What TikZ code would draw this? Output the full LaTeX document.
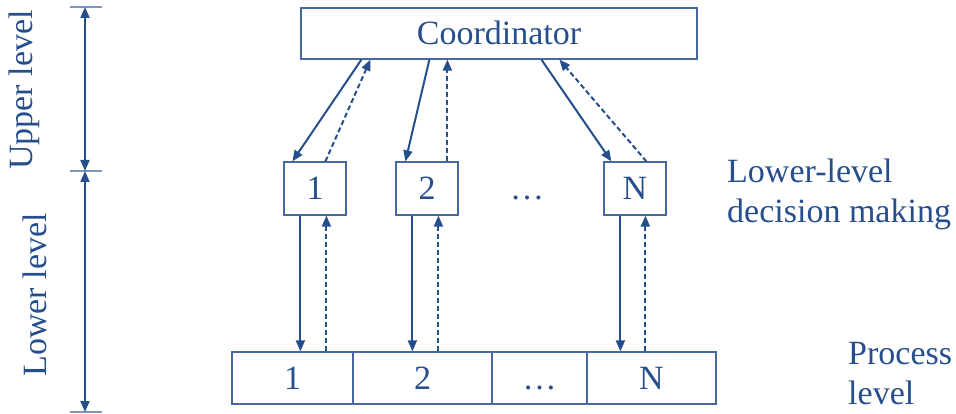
\documentclass[tikz,border=0pt]{standalone}
\usepackage{fontspec}
\setmainfont{Liberation Serif}
\usetikzlibrary{arrows.meta}
\definecolor{inkblue}{RGB}{38,78,140}
\definecolor{lineblue}{RGB}{36,78,140}
\definecolor{boxblue}{RGB}{70,105,160}
\tikzset{
  box/.style={draw=boxblue, line width=1.2pt, inner sep=0pt, text=inkblue,
    text height=22.5pt, text depth=0pt,
    font=\fontsize{34}{40}\selectfont},
  label/.style={text=inkblue, inner sep=0pt, font=\fontsize{34}{40}\selectfont},
  cmd/.style={draw=lineblue, line width=2pt, -{Triangle[length=11pt,width=9pt]}},
  fbk/.style={cmd, dash pattern=on 5pt off 3pt},
  span/.style={draw=lineblue, line width=2pt, {Triangle[length=11pt,width=9pt]}-{Triangle[length=11pt,width=9pt]}},
  tick/.style={draw=boxblue!70, line width=1.2pt}
}
\begin{document}
\begin{tikzpicture}[x=1pt,y=-1pt]
\useasboundingbox (0,0) rectangle (956,414);

% upper level
\node[box, minimum width=396pt, minimum height=51pt] (coord) at (499,33.5) {Coordinator};

% lower-level decision units
\node[box, minimum width=62pt, minimum height=53pt] (b1) at (315,188.5) {1};
\node[box, minimum width=62pt, minimum height=53pt] (b2) at (427,188.5) {2};
\node[box, minimum width=62pt, minimum height=53pt] (bN) at (635,188.5) {N};
\node[label, anchor=base] (dots) at (527,200) {\dots};

% process level
\node[box, minimum width=121pt, minimum height=52pt] (p1) at (292.5,378) {1};
\node[box, minimum width=139pt, minimum height=52pt] (p2) at (422.5,378) {2};
\node[box, minimum width=95pt, minimum height=52pt] (p3) at (539.5,378) {\dots};
\node[box, minimum width=129pt, minimum height=52pt] (p4) at (651.5,378) {N};

% coordinator <-> units
\draw[cmd] ([xshift=61pt]coord.south west) -- ([xshift=9pt]b1.north west);
\draw[fbk] ([xshift=42pt]b1.north west) -- ([xshift=70pt]coord.south west);
\draw[cmd] ([xshift=129pt]coord.south west) -- ([xshift=10pt]b2.north west);
\draw[fbk] ([xshift=52pt]b2.north west) -- ([xshift=147pt]coord.south west);
\draw[cmd] ([xshift=241pt]coord.south west) -- ([xshift=8pt]bN.north west);
\draw[fbk] ([xshift=43pt]bN.north west) -- ([xshift=259pt]coord.south west);

% units <-> process
\draw[cmd] ([xshift=17pt]b1.south west) -- ([xshift=69pt]p1.north west);
\draw[fbk] ([xshift=95pt]p1.north west) -- ([xshift=43pt]b1.south west);
\draw[cmd] ([xshift=17pt]b2.south west) -- ([xshift=60pt]p2.north west);
\draw[fbk] ([xshift=86pt]p2.north west) -- ([xshift=43pt]b2.south west);
\draw[cmd] ([xshift=17pt]bN.south west) -- ([xshift=34pt]p4.north west);
\draw[fbk] ([xshift=59pt]p4.north west) -- ([xshift=42pt]bN.south west);

% level scale on the left
\coordinate (t0) at (85,7);
\coordinate (t1) at (85,171);
\coordinate (t2) at (85,412);
\draw[tick] (70,7) -- (102,7);
\draw[tick] (70,171) -- (102,171);
\draw[tick] (70,412) -- (102,412);
\draw[span] (t0) -- (t1);
\draw[span] (t1) -- (t2);
\node[label, rotate=90] (up) at (24,90) {Upper level};
\node[label, rotate=90] (low) at (35,295) {Lower level};

% right-hand labels
\node[label, anchor=base west, align=left] (dm) at (727,223) {Lower-level\\decision making};
\node[label, anchor=base west, align=left] (pl) at (848,404) {Process\\level};
\end{tikzpicture}
\end{document}
